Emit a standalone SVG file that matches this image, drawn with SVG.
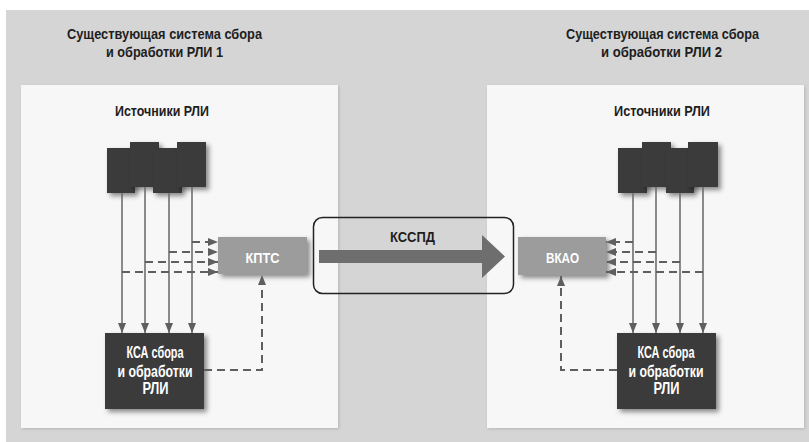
<svg xmlns="http://www.w3.org/2000/svg" width="809" height="442" viewBox="0 0 809 442">
  <defs>
    <filter id="sh" x="-30%" y="-30%" width="160%" height="160%">
      <feDropShadow dx="3" dy="3" stdDeviation="2.5" flood-color="#000" flood-opacity="0.45"/>
    </filter>
    <filter id="psh" x="-5%" y="-5%" width="110%" height="110%">
      <feDropShadow dx="1" dy="1" stdDeviation="1.5" flood-color="#000" flood-opacity="0.15"/>
    </filter>
    <marker id="ah" markerUnits="userSpaceOnUse" markerWidth="10" markerHeight="8" refX="10" refY="4" orient="auto">
      <path d="M0,0 L10,4 L0,8 z" fill="#5f5f5f"/>
    </marker>
    <style>
      .t { font-family: "Liberation Sans", Arial, sans-serif; font-weight: bold; text-anchor: middle; }
      .title { font-size: 14px; fill: #1e1e1e; }
      .wt { font-size: 14px; fill: #ffffff; }
      .kt { font-size: 16px; fill: #ffffff; }
      .panel { fill: #f7f7f7; filter: url(#psh); }
      .src { fill: #3b3b3b; filter: url(#sh); }
      .ksa { fill: #3b3b3b; filter: url(#sh); }
      .mid { fill: #9c9c9c; filter: url(#sh); }
      .sol { stroke: #6f6f6f; stroke-width: 1.6; fill: none; marker-end: url(#ah); }
      .dash { stroke: #5f5f5f; stroke-width: 2; fill: none; stroke-dasharray: 8 5; marker-end: url(#ah); }
    </style>
  </defs>

  <rect x="6" y="10" width="803" height="432" fill="#d5d5d5"/>

  <g id="panel-left">
    <rect class="panel" x="21" y="85" width="317" height="343"/>
  </g>
  <g id="panel-right">
    <rect class="panel" x="487" y="85" width="317" height="343"/>
  </g>

  <g id="title-left">
    <text class="t title" x="164.5" y="38.5" textLength="195" lengthAdjust="spacingAndGlyphs">Существующая система сбора</text>
    <text class="t title" x="164.5" y="57" textLength="117" lengthAdjust="spacingAndGlyphs">и обработки РЛИ 1</text>
  </g>
  <g id="title-right">
    <text class="t title" x="662.5" y="38.5" textLength="193" lengthAdjust="spacingAndGlyphs">Существующая система сбора</text>
    <text class="t title" x="661.5" y="57" textLength="121" lengthAdjust="spacingAndGlyphs">и обработки РЛИ 2</text>
  </g>

  <g id="sources-left">
    <text class="t title" x="162" y="116" textLength="94" lengthAdjust="spacingAndGlyphs">Источники РЛИ</text>
    <rect class="src" x="107" y="148" width="28" height="45"/>
    <rect class="src" x="130" y="142" width="29" height="45"/>
    <rect class="src" x="153" y="148" width="29" height="45"/>
    <rect class="src" x="177" y="142" width="29" height="45"/>
  </g>
  <g id="sources-right">
    <text class="t title" x="662" y="116" textLength="96" lengthAdjust="spacingAndGlyphs">Источники РЛИ</text>
    <rect class="src" x="618" y="148" width="29" height="45"/>
    <rect class="src" x="642" y="142" width="29" height="45"/>
    <rect class="src" x="666" y="148" width="28" height="45"/>
    <rect class="src" x="688" y="142" width="30" height="45"/>
  </g>

  <g id="ksa-left">
    <rect class="ksa" x="105" y="333" width="99" height="76"/>
    <text class="t kt" x="155" y="358" textLength="57" lengthAdjust="spacingAndGlyphs">КСА сбора</text>
    <text class="t kt" x="155" y="376.5" textLength="75" lengthAdjust="spacingAndGlyphs">и обработки</text>
    <text class="t kt" x="155.5" y="393.5" textLength="26" lengthAdjust="spacingAndGlyphs">РЛИ</text>
  </g>
  <g id="ksa-right">
    <rect class="ksa" x="617" y="333" width="99" height="76"/>
    <text class="t kt" x="666" y="358" textLength="57" lengthAdjust="spacingAndGlyphs">КСА сбора</text>
    <text class="t kt" x="666" y="376.5" textLength="75" lengthAdjust="spacingAndGlyphs">и обработки</text>
    <text class="t kt" x="666.5" y="393.5" textLength="26" lengthAdjust="spacingAndGlyphs">РЛИ</text>
  </g>

  <g id="kpts">
    <rect class="mid" x="218" y="237" width="89" height="37"/>
    <text class="t wt" x="262.5" y="262.5" textLength="34" lengthAdjust="spacingAndGlyphs">КПТС</text>
  </g>
  <g id="vkao">
    <rect class="mid" x="518" y="237" width="88" height="38"/>
    <text class="t wt" x="562.5" y="262.5" textLength="33" lengthAdjust="spacingAndGlyphs">ВКАО</text>
  </g>

  <g id="ksspd">
    <rect x="313.5" y="217.5" width="200" height="76" rx="9" fill="none" stroke="#222" stroke-width="1.5"/>
    <polygon points="319,250 482,250 482,235 505,256.5 482,278 482,263 319,263" fill="#6e6e6e"/>
    <text class="t" x="412.5" y="241.5" textLength="45" lengthAdjust="spacingAndGlyphs" style="font-size:14px;fill:#1e1e1e">КССПД</text>
  </g>

  <g id="connectors">
    <path class="sol" d="M122,193 V333"/>
    <path class="sol" d="M145,187 V333"/>
    <path class="sol" d="M169,193 V333"/>
    <path class="sol" d="M192,187 V333"/>
    <path class="sol" d="M633,193 V333"/>
    <path class="sol" d="M656,187 V333"/>
    <path class="sol" d="M680,193 V333"/>
    <path class="sol" d="M703,187 V333"/>

    <path class="dash" d="M192,242 H218"/>
    <path class="dash" d="M169,252 H218"/>
    <path class="dash" d="M145,262 H218"/>
    <path class="dash" d="M122,272 H218"/>

    <path class="dash" d="M633,242 H606"/>
    <path class="dash" d="M656,252 H606"/>
    <path class="dash" d="M680,262 H606"/>
    <path class="dash" d="M703,272 H606"/>

    <path class="dash" d="M204,370 H262 V275"/>
    <path class="dash" d="M617,370 H561 V276"/>
  </g>
</svg>
